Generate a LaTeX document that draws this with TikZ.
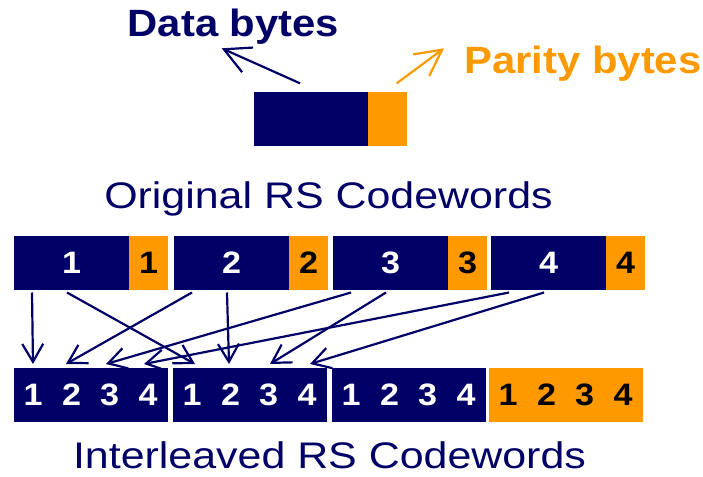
\documentclass[tikz,border=0pt]{standalone}
\usepackage{fontspec}
\setmainfont{Liberation Sans}
\usetikzlibrary{arrows.meta}
\definecolor{navy}{RGB}{0,0,102}
\definecolor{amber}{RGB}{255,153,0}
\newcommand{\widetxt}[1]{\scalebox{1.1}[1]{#1}}
\newcommand{\widecap}[1]{\scalebox{1.16}[1]{#1}}

\begin{document}
\begin{tikzpicture}[x=1pt,y=-1pt,
  block/.style={draw=none, inner sep=0pt, outer sep=0pt, anchor=north west, minimum height=54pt},
  databox/.style={block, fill=navy, text=white, font=\bfseries\fontsize{31}{31}\selectfont},
  paritybox/.style={block, fill=amber, text=black, font=\bfseries\fontsize{31}{31}\selectfont},
  digit/.style={inner sep=0pt, font=\bfseries\fontsize{31}{31}\selectfont},
  caption/.style={inner sep=0pt, anchor=base, text=navy, font=\fontsize{37}{37}\selectfont},
  headline/.style={inner sep=0pt, anchor=base, font=\bfseries\fontsize{38}{38}\selectfont},
  link/.style={draw=navy, line width=2.2pt, -{Straight Barb[length=18pt,width=21pt]}},
  pointer/.style={line width=2.2pt, -{Straight Barb[length=26pt,width=27pt]}}
]
\useasboundingbox (0,0) rectangle (703,476);

% --- single codeword: data part and parity part
\node[databox, minimum width=114.3pt] (topd) at (254,92) {};
\node[paritybox, minimum width=38.4pt] (topp) at (topd.north east) {};
\node[headline, text=navy] (dlabel) at (233.5,37) {\widetxt{Data bytes}};
\node[headline, text=amber] (plabel) at (583,74) {\widetxt{Parity bytes}};
\coordinate (dstart) at (300,83.3);
\coordinate (dtip) at (221.7,48.3);
\coordinate (pstart) at (396.7,83.3);
\coordinate (ptip) at (444,48.3);
\draw[pointer, draw=navy] (dstart) -- (dtip);
\draw[pointer, draw=amber] (pstart) -- (ptip);

% --- original codewords
\node[caption] (origlabel) at (328.5,208) {\widecap{Original RS Codewords}};
\foreach \i/\x in {1/14, 2/174, 3/333, 4/491}{
  \node[databox, minimum width=115pt] (c\i d) at (\x,236) {\widetxt{\i}};
  \node[paritybox, minimum width=39pt] (c\i p) at (c\i d.north east) {\widetxt{\i}};
}

% --- interleaved codewords
\foreach \b/\x in {1/14, 2/173, 3/332}{
  \node[databox, minimum width=154pt] (ib\b) at (\x,368) {};
}
\node[paritybox, minimum width=154pt] (ib4) at (489,368) {};
\foreach \b in {1,2,3}{
  \foreach \k/\o in {1/19, 2/57.5, 3/95.5, 4/134}{
    \node[digit, text=white] (i\b\k) at ([xshift=\o pt]ib\b.west) {\widetxt{\k}};
  }
}
\foreach \k/\o in {1/19, 2/57.5, 3/95.5, 4/134}{
  \node[digit, text=black] (i4\k) at ([xshift=\o pt]ib4.west) {\widetxt{\k}};
}
\node[caption] (intlabel) at (329.5,468) {\widecap{Interleaved RS Codewords}};

% --- symbol routing: arrow starts under each codeword, ends above the slots
\foreach \i in {1,2,3,4}{
  \coordinate (s\i a) at ([xshift=18pt, yshift=-2.5pt]c\i d.south west);
  \coordinate (s\i b) at ([xshift=53pt, yshift=-2.5pt]c\i d.south west);
}
\coordinate (e11) at (33,364);
\coordinate (e12) at (66,364);
\coordinate (e13) at (106,364);
\coordinate (e14) at (144,364);
\coordinate (e21) at (195,364);
\coordinate (e22) at (229,364);
\coordinate (e23) at (270,364);
\coordinate (e24) at (310,364);

\draw[link] (s1a) -- (e11);
\draw[link] (s1b) -- (e21);
\draw[link] (s2a) -- (e12);
\draw[link] (s2b) -- (e22);
\draw[link] (s3a) -- (e13);
\draw[link] (s3b) -- (e23);
\draw[link] (s4a) -- (e14);
\draw[link] (s4b) -- (e24);
\end{tikzpicture}
\end{document}
